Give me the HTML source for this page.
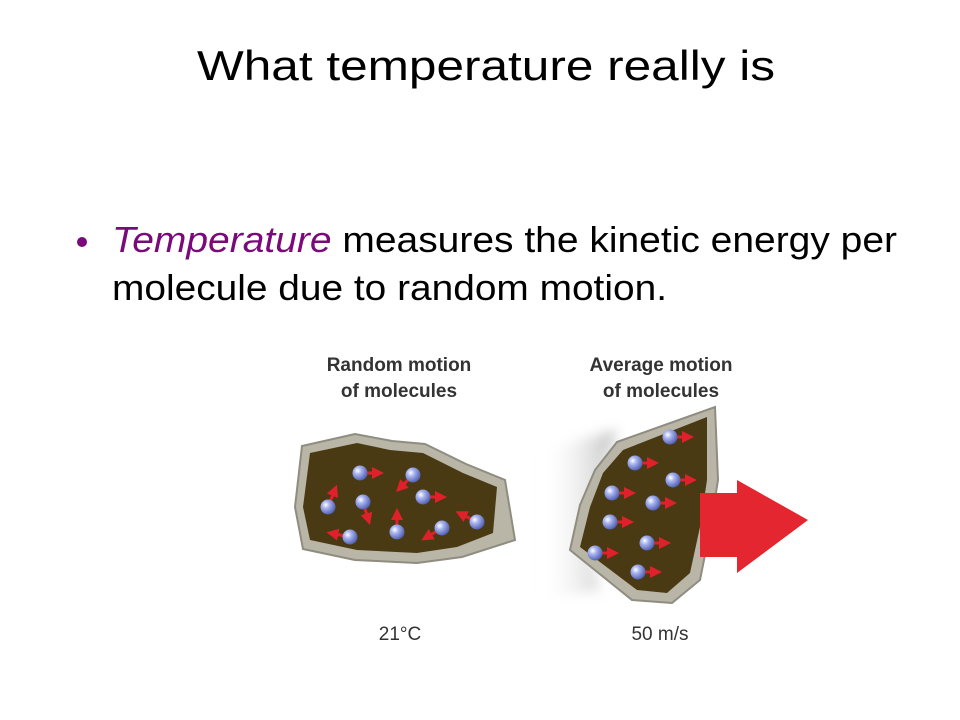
<!DOCTYPE html>
<html><head><meta charset="utf-8"><style>
html,body{margin:0;padding:0;background:#fff;}
svg{display:block;font-family:"Liberation Sans",sans-serif;}
</style></head><body>
<svg width="960" height="720" viewBox="0 0 960 720">
<defs>
<radialGradient id="ball" cx="0.35" cy="0.35" r="0.7">
<stop offset="0" stop-color="#ffffff"/><stop offset="0.35" stop-color="#a8b4ee"/><stop offset="1" stop-color="#4c5bb0"/>
</radialGradient>
<linearGradient id="blur" x1="0" x2="1" y1="0" y2="0">
<stop offset="0" stop-color="#fff" stop-opacity="0"/><stop offset="1" stop-color="#a0a0a0" stop-opacity="0.7"/>
</linearGradient>
<filter id="soft"><feGaussianBlur stdDeviation="6"/></filter>
<marker id="ah" markerWidth="4" markerHeight="4" refX="2" refY="2" orient="auto" markerUnits="strokeWidth"><path d="M0,0 L4,2 L0,4z" fill="#e0202a"/></marker>
</defs>
<text x="486" y="80" font-size="42" text-anchor="middle" textLength="578" lengthAdjust="spacingAndGlyphs">What temperature really is</text>
<circle cx="82" cy="242" r="5" fill="#7a0a7a"/>
<text x="112" y="252" font-size="36" textLength="785" lengthAdjust="spacingAndGlyphs"><tspan fill="#7a0a7a" font-style="italic">Temperature</tspan> measures the kinetic energy per</text>
<text x="112" y="300" font-size="36" textLength="555" lengthAdjust="spacingAndGlyphs">molecule due to random motion.</text>

<g font-size="19" font-weight="bold" fill="#333" text-anchor="middle">
<text x="399" y="371">Random motion</text><text x="399" y="397">of molecules</text></g>
<g font-size="19" font-weight="bold" fill="#333" text-anchor="middle">
<text x="661" y="371">Average motion</text><text x="661" y="397">of molecules</text></g>

<g>
<polygon points="302,446 355,434 392,441 425,444 466,464 505,480 515,540 462,557 417,563 355,560 303,549 295,507" fill="#b9b6a8" stroke="#8f8c80" stroke-width="2"/>
<polygon points="310,453 357,443 390,450 423,453 463,473 497,487 493,533 457,547 417,553 357,550 310,540 303,507" fill="#4a3a14"/>
</g>
<polygon points="540,450 617,430 600,480 585,530 600,590 540,600" fill="url(#blur)" filter="url(#soft)"/>
<g>
<polygon points="617,442 715,407 718,480 710,530 700,580 672,603 632,600 570,550 580,505 595,470" fill="#b9b6a8" stroke="#8f8c80" stroke-width="2"/>
<polygon points="623,450 707,417 707,480 700,527 690,573 667,593 637,590 580,547 590,507 603,473" fill="#4a3a14"/>
</g>
<polygon points="700,493 737,493 737,480 808,520 737,573 737,557 700,557" fill="#e3262f"/>

<g id="mols"></g>
<text x="400" y="640" font-size="19" fill="#333" text-anchor="middle">21°C</text>
<text x="660" y="640" font-size="19" fill="#333" text-anchor="middle">50 m/s</text>
</svg>
<script>
const molX=[360,413,363,423,328,477,442,397,350,670,635,673,612,653,610,647,595,638];
const molY=[473,475,502,497,507,522,528,532,537,437,463,480,493,503,522,543,553,572];
const dirX=[1,-0.7,0.3,1,0.4,-1,-1,0,-1,1,1,1,1,1,1,1,1,1];
const dirY=[0,0.7,1,0,-1,-0.5,0.6,-1,-0.2,0,0,0,0,0,0,0,0,0];
const g=document.getElementById('mols');
const ns='http://www.w3.org/2000/svg';
for(let i=0;i<molX.length;i++){
  const l=document.createElementNS(ns,'line');
  const n=Math.hypot(dirX[i],dirY[i]);
  l.setAttribute('x1',molX[i]+dirX[i]/n*7);l.setAttribute('y1',molY[i]+dirY[i]/n*7);
  l.setAttribute('x2',molX[i]+dirX[i]/n*18);l.setAttribute('y2',molY[i]+dirY[i]/n*18);
  l.setAttribute('stroke','#e0202a');l.setAttribute('stroke-width','3');l.setAttribute('marker-end','url(#ah)');
  
  
  g.appendChild(l);
  const c=document.createElementNS(ns,'circle');
  c.setAttribute('cx',molX[i]);c.setAttribute('cy',molY[i]);c.setAttribute('r','7.5');c.setAttribute('fill','url(#ball)');
  
  
  g.appendChild(c);
}
</script>
</body></html>
